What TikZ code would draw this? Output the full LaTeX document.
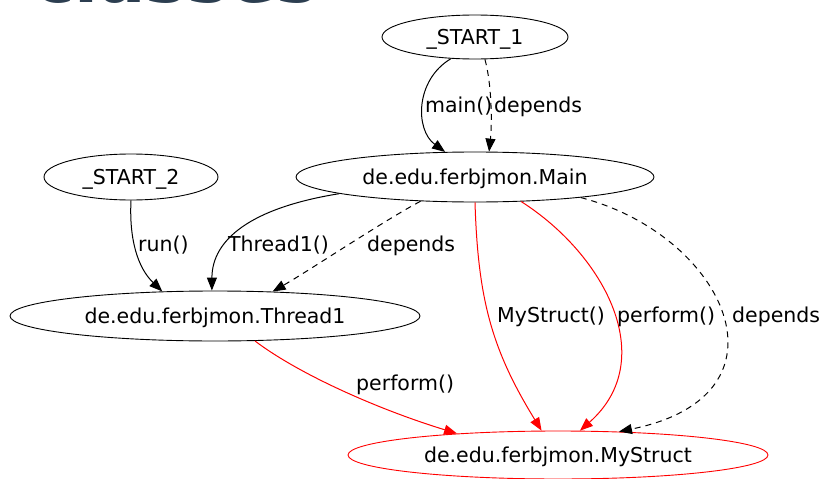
\documentclass[tikz,border=0pt]{standalone}
\usepackage{fontspec}
\setmainfont{DejaVu Sans}
\newfontfamily\headfont{DejaVu Sans Bold}
\usetikzlibrary{shapes.geometric,arrows.meta}
\definecolor{headink}{HTML}{2C3E50}

\tikzset{
  gnode/.style={ellipse, draw, line width=0.9pt, inner sep=0pt,
    font=\fontsize{20.5}{24}\selectfont, text height=15pt, text depth=1pt},
  redgnode/.style={gnode, draw=red},
  elabel/.style={anchor=base west, inner sep=0pt, font=\fontsize{20.5}{24}\selectfont},
  call/.style={draw=black, line width=1pt, -{Triangle[length=13pt,width=10pt]}},
  redcall/.style={call, draw=red, -{Triangle[length=13pt,width=10pt,fill=red]}, color=red},
  dep/.style={call, dash pattern=on 6pt off 5pt}
}

\begin{document}
\begin{tikzpicture}[x=1pt,y=-1pt]
  \useasboundingbox (0,0) rectangle (820,479);
  \clip (0,0) rectangle (820,479);

  % page heading, mostly above the visible area
  \node[anchor=base west, inner sep=0pt, text=headink,
        font=\headfont\fontsize{70}{80}\selectfont] (heading) at (33,2.5) {classes};

  % graph nodes
  \node[gnode, minimum width=186pt, minimum height=44pt] (s1) at (475,37) {\_START\_1};
  \node[gnode, minimum width=358pt, minimum height=50pt] (main) at (475,177) {de.edu.ferbjmon.Main};
  \node[gnode, minimum width=174pt, minimum height=46pt] (s2) at (131,177) {\_START\_2};
  \node[gnode, minimum width=410pt, minimum height=50pt] (thr) at (215,316) {de.edu.ferbjmon.Thread1};
  \node[redgnode, minimum width=420pt, minimum height=48pt] (ms) at (558,455) {de.edu.ferbjmon.MyStruct};

  % calls and dependencies
  \draw[call] (s1.222) .. controls (415,80) and (415,130) .. (main.140);
  \draw[dep]  (s1.294) .. controls (492,85) and (492,125) .. (main.61);

  \draw[call] (s2.270) .. controls (129,240) and (138,268) .. (thr.155);
  \draw[call] (main.187) .. controls (250,208) and (212,240) .. (thr.97);
  \draw[dep]  (main.204) .. controls (385,220) and (310,270) .. (thr.23);

  \draw[redcall] (main.270) .. controls (478,300) and (492,350) .. (ms.124);
  \draw[redcall] (main.332) .. controls (605,255) and (660,360) .. (ms.48);
  \draw[dep]     (main.349) .. controls (725,235) and (800,395) .. (ms.21);

  \draw[redcall] (thr.328) .. controls (300,375) and (380,410) .. (ms.168);

  % edge labels
  \node[elabel] (l1) at (425,112) {main()};
  \node[elabel] (l2) at (494,112) {depends};
  \node[elabel] (l3) at (138,251) {run()};
  \node[elabel] (l4) at (228,251) {Thread1()};
  \node[elabel] (l5) at (367,251) {depends};
  \node[elabel] (l6) at (497,322) {MyStruct()};
  \node[elabel] (l7) at (617,322) {perform()};
  \node[elabel] (l8) at (732,322) {depends};
  \node[elabel] (l9) at (356,390) {perform()};
\end{tikzpicture}
\end{document}
